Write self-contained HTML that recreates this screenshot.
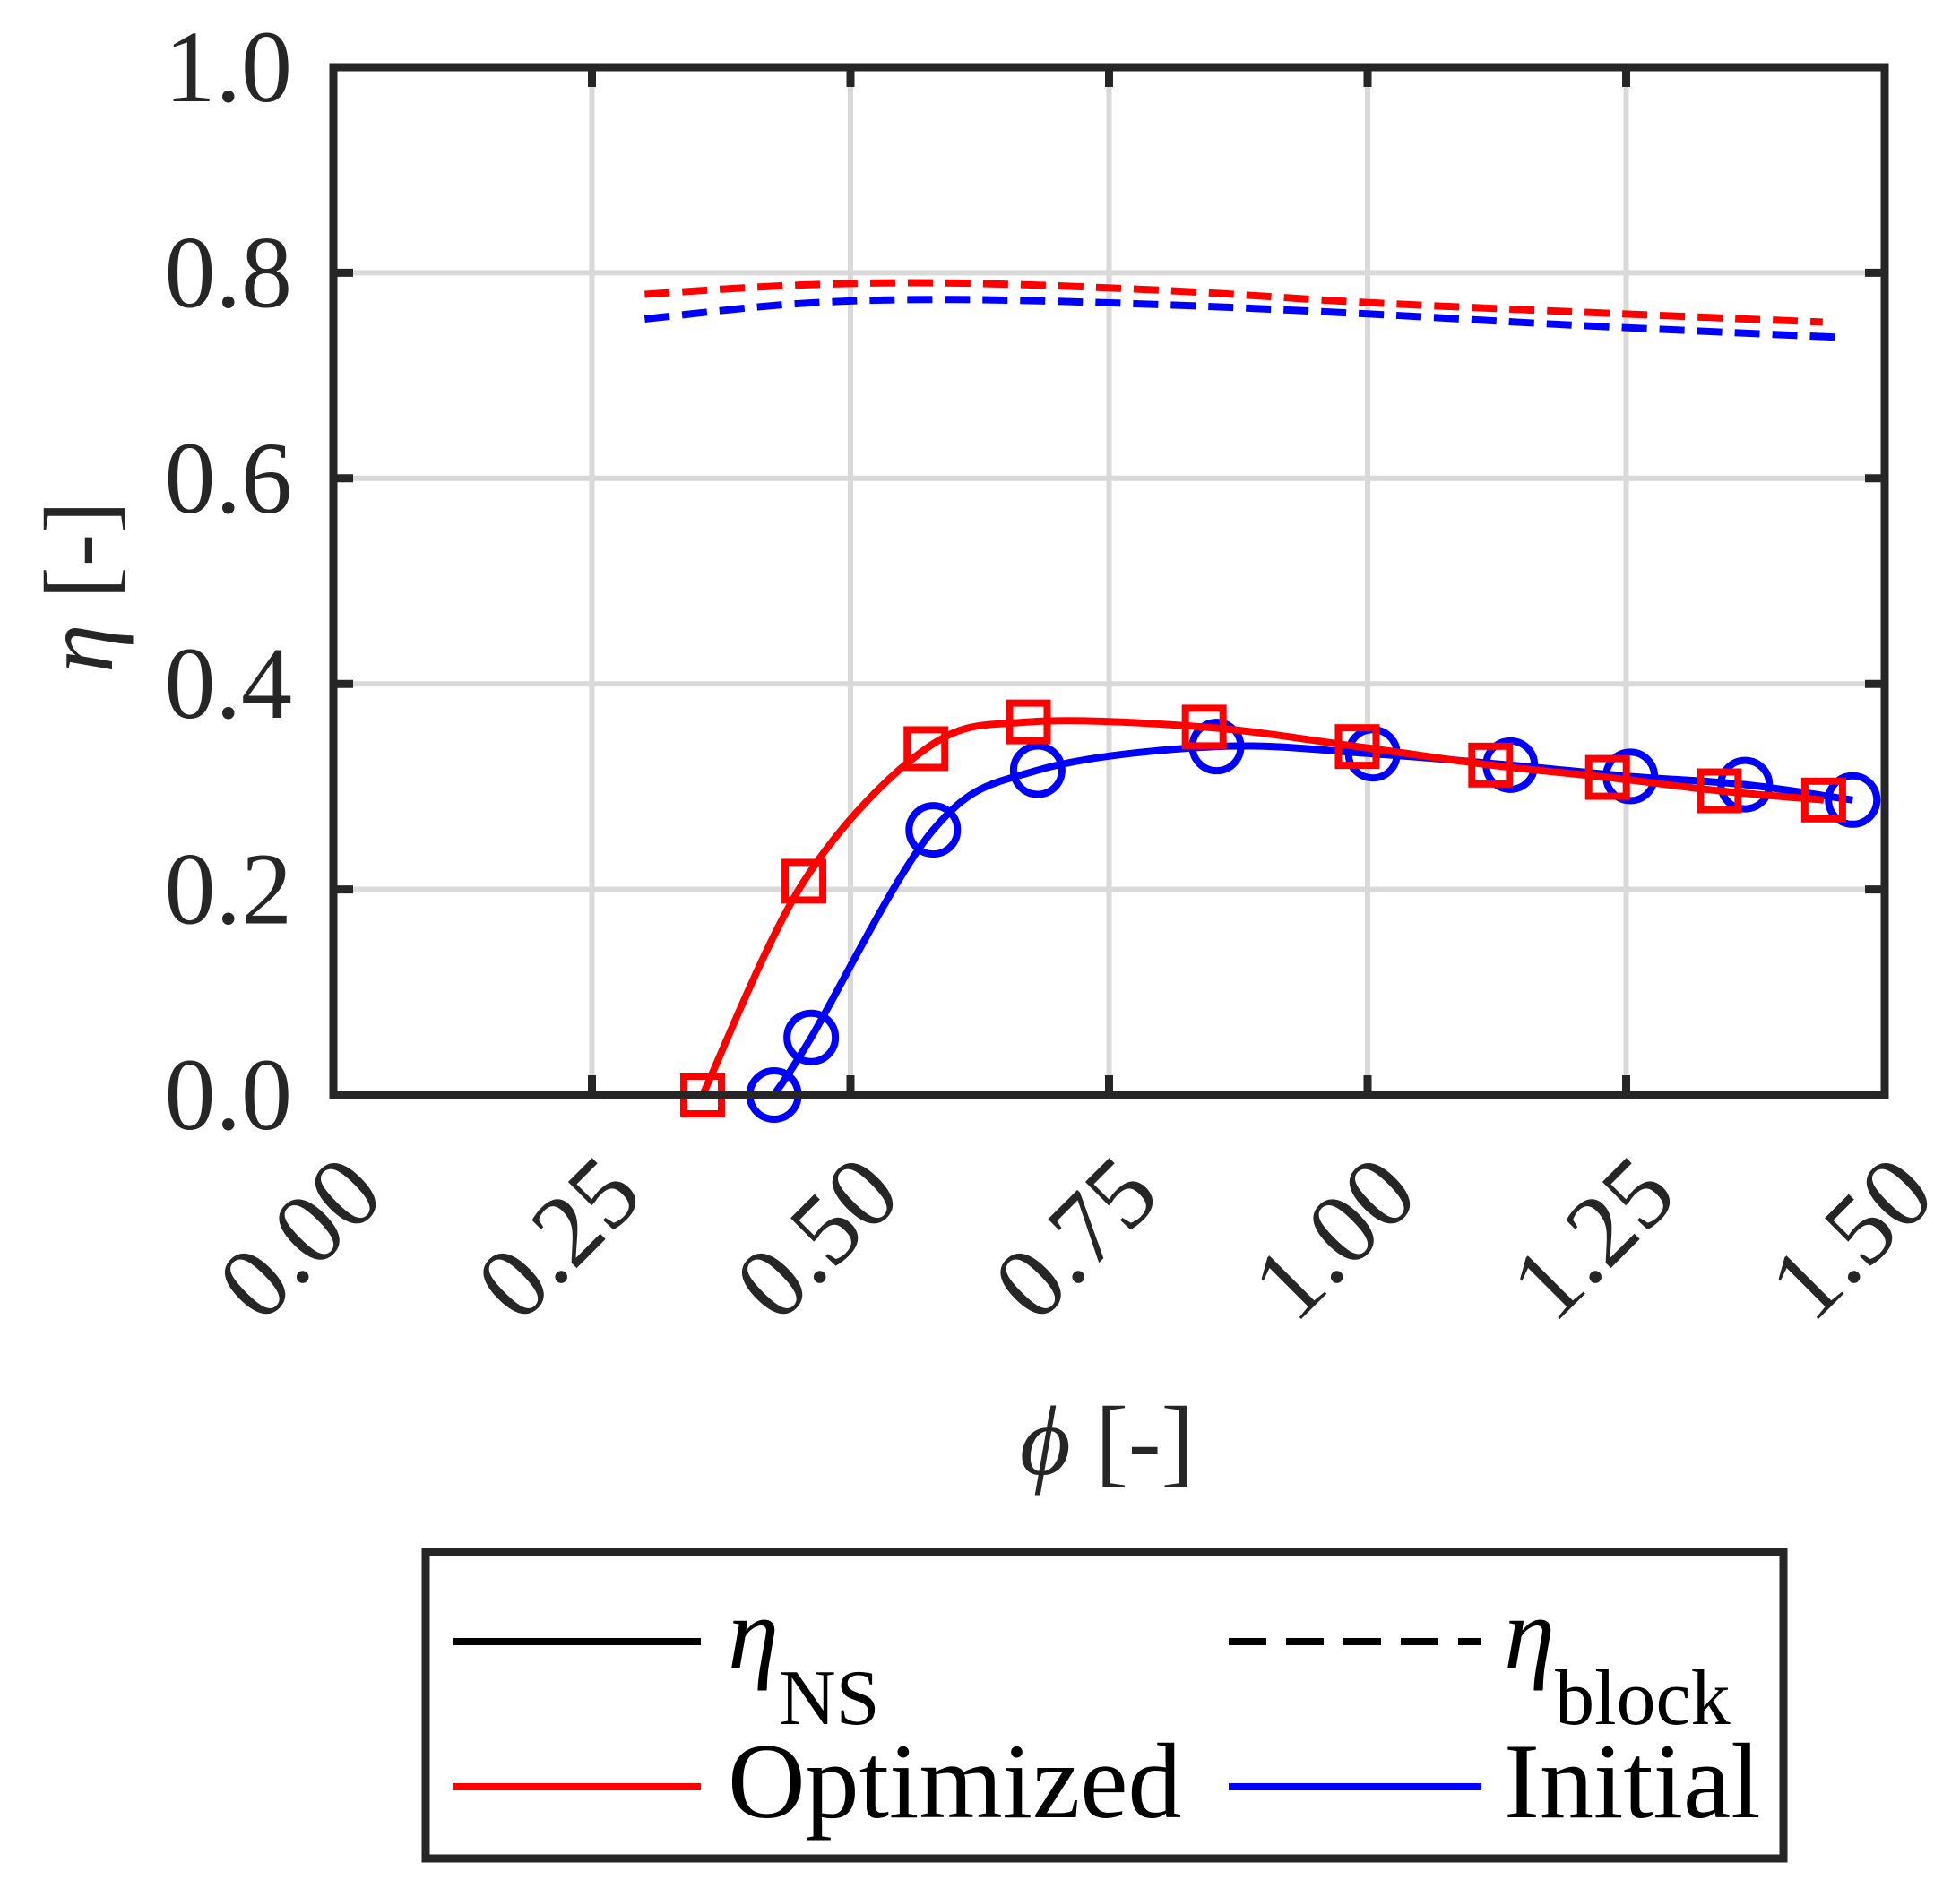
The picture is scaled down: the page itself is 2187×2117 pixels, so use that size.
<!DOCTYPE html>
<html><head><meta charset="utf-8"><style>
html,body{margin:0;padding:0;background:#fff;}
svg{display:block;}
text{font-family:"Liberation Serif","DejaVu Serif",serif;fill:#262626;}
</style></head><body>
<svg id="s" width="2187" height="2117" viewBox="0 0 2187 2117" xmlns="http://www.w3.org/2000/svg">
<g id="grid" stroke="#d9d9d9" stroke-width="6"></g>
<g id="curves" fill="none"></g>
<rect x="372" y="75" width="1731" height="1147" fill="none" stroke="#262626" stroke-width="9"/>
<g id="ticks" stroke="#262626" stroke-width="9"></g>
<g id="labels" font-size="114"></g>
<text x="0" y="0" font-size="110" text-anchor="middle" transform="translate(125,655) rotate(-90)"><tspan font-style="italic">η</tspan> [-]</text>
<text x="1235" y="1645" font-size="110" text-anchor="middle"><tspan font-style="italic">ϕ</tspan> [-]</text>
<rect x="475" y="1732" width="1515" height="342" fill="#fff" stroke="#262626" stroke-width="9"/>
<line x1="505" y1="1832" x2="782" y2="1832" stroke="#000" stroke-width="8"/>
<line x1="1371" y1="1832" x2="1653" y2="1832" stroke="#000" stroke-width="8" stroke-dasharray="42,22"/>
<line x1="505" y1="1994" x2="782" y2="1994" stroke="#f00" stroke-width="8"/>
<line x1="1371" y1="1994" x2="1653" y2="1994" stroke="#00f" stroke-width="8"/>
<text x="812" y="1862" font-size="115" style="fill:#000"><tspan font-style="italic">η</tspan><tspan font-size="88" dy="62">NS</tspan></text>
<text x="1678" y="1862" font-size="115" style="fill:#000"><tspan font-style="italic">η</tspan><tspan font-size="88" dy="62">block</tspan></text>
<text x="812" y="2028" font-size="120" style="fill:#000">Optimized</text>
<text x="1678" y="2028" font-size="120" style="fill:#000">Initial</text>
</svg>
<script>
var NS="http://www.w3.org/2000/svg";
function X(p){return 372+p*1154;} function Y(v){return 1222-v*1147;}
function el(parent,tag,attrs,txt){var e=document.createElementNS(NS,tag);for(var k in attrs)e.setAttribute(k,attrs[k]);if(txt!==undefined)e.textContent=txt;document.getElementById(parent).appendChild(e);return e;}
for(var i=1;i<6;i++){el("grid","line",{x1:X(i*0.25),y1:75,x2:X(i*0.25),y2:1222});}
for(var j=1;j<5;j++){el("grid","line",{x1:372,y1:Y(j*0.2),x2:2103,y2:Y(j*0.2)});}
for(var i=1;i<6;i++){var x=X(i*0.25);el("ticks","line",{x1:x,y1:1222,x2:x,y2:1200});el("ticks","line",{x1:x,y1:75,x2:x,y2:97});}
for(var j=1;j<5;j++){var y=Y(j*0.2);el("ticks","line",{x1:372,y1:y,x2:394,y2:y});el("ticks","line",{x1:2103,y1:y,x2:2081,y2:y});}
for(var j=0;j<6;j++){el("labels","text",{x:326,y:Y(j*0.2)+38,"text-anchor":"end"},(j*0.2).toFixed(1));}
var xl=["0.00","0.25","0.50","0.75","1.00","1.25","1.50"];
for(var i=0;i<7;i++){var x=X(i*0.25);el("labels","text",{x:0,y:0,"text-anchor":"end",transform:"translate("+(x+60)+",1338) rotate(-45)"},xl[i]);}
function cr(pts){var d="M"+X(pts[0][0])+","+Y(pts[0][1]);var P=pts.map(function(p){return [X(p[0]),Y(p[1])];});
for(var i=0;i<P.length-1;i++){var p0=P[i-1]||P[i],p1=P[i],p2=P[i+1],p3=P[i+2]||P[i+1];
var c1=[p1[0]+(p2[0]-p0[0])/6,p1[1]+(p2[1]-p0[1])/6],c2=[p2[0]-(p3[0]-p1[0])/6,p2[1]-(p3[1]-p1[1])/6];
d+=" C"+c1+" "+c2+" "+p2;}return d;}
var red=[[0.357,0],[0.455,0.208],[0.573,0.337],[0.672,0.363],[0.842,0.358],[0.990,0.339],[1.119,0.321],[1.232,0.309],[1.340,0.296],[1.441,0.287]];
var blue=[[0.426,0],[0.462,0.056],[0.580,0.258],[0.681,0.316],[0.854,0.339],[1.005,0.332],[1.138,0.321],[1.254,0.310],[1.365,0.302],[1.469,0.287]];
var rd=[[0.301,0.779],[0.45,0.788],[0.6,0.790],[0.8,0.783],[1.0,0.771],[1.2,0.762],[1.44,0.752]];
var bd=[[0.301,0.755],[0.45,0.770],[0.6,0.774],[0.8,0.769],[1.0,0.760],[1.2,0.749],[1.46,0.737]];
el("curves","path",{d:cr(bd),stroke:"#00f","stroke-width":8,"stroke-dasharray":"28,14"});
el("curves","path",{d:cr(rd),stroke:"#f00","stroke-width":8,"stroke-dasharray":"28,14"});
el("curves","path",{d:cr(blue),stroke:"#00f","stroke-width":8});
blue.forEach(function(p){el("curves","circle",{cx:X(p[0]),cy:Y(p[1]),r:27,stroke:"#00f","stroke-width":8});});
el("curves","path",{d:cr(red),stroke:"#f00","stroke-width":8});
red.forEach(function(p){el("curves","rect",{x:X(p[0])-21,y:Y(p[1])-21,width:42,height:42,stroke:"#f00","stroke-width":8});});
</script>
</body></html>
